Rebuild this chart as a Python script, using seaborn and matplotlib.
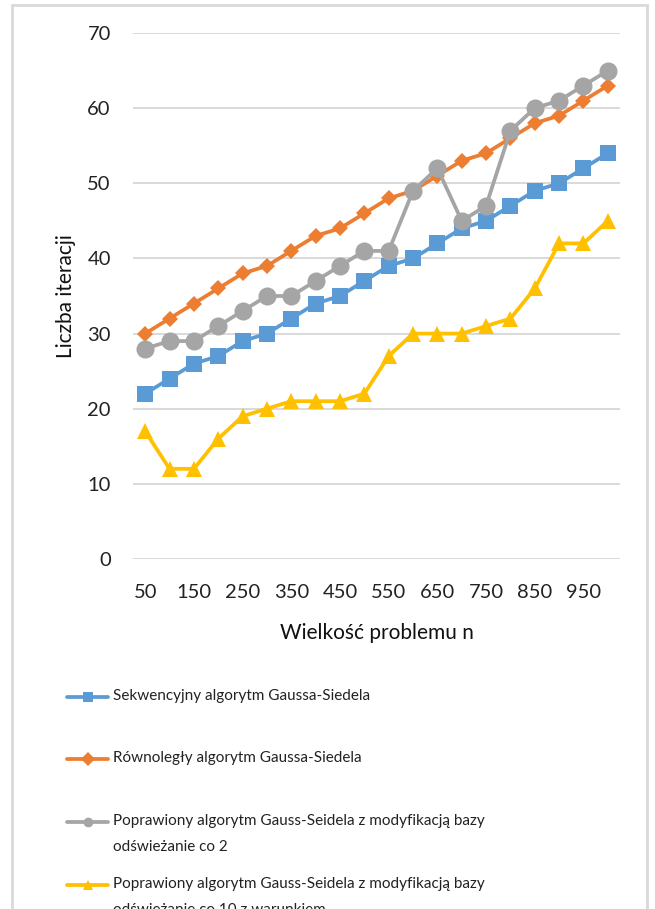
import numpy as np
import pandas as pd
import matplotlib
matplotlib.use("Agg")
import matplotlib.pyplot as plt
import seaborn as sns
from matplotlib.lines import Line2D
from matplotlib.patches import Rectangle

sizes = [50, 100, 150, 200, 250, 300, 350, 400, 450, 500,
         550, 600, 650, 700, 750, 800, 850, 900, 950, 1000]
sekwencyjny = [22, 24, 26, 27, 29, 30, 32, 34, 35, 37, 39, 40, 42, 44, 45, 47, 49, 50, 52, 54]
rownolegly = [30, 32, 34, 36, 38, 39, 41, 43, 44, 46, 48, 49, 51, 53, 54, 56, 58, 59, 61, 63]
poprawiony_2 = [28, 29, 29, 31, 33, 35, 35, 37, 39, 41, 41, 49, 52, 45, 47, 57, 60, 61, 63, 65]
poprawiony_10 = [17, 12, 12, 16, 19, 20, 21, 21, 21, 22, 27, 30, 30, 30, 31, 32, 36, 42, 42, 45]
xtick_labels = [50, 150, 250, 350, 450, 550, 650, 750, 850, 950]
yticks = [0, 10, 20, 30, 40, 50, 60, 70]

series_names = [
    "Sekwencyjny algorytm Gaussa-Siedela",
    "Równoległy algorytm Gaussa-Siedela",
    "Poprawiony algorytm Gauss-Seidela z modyfikacją bazy\nodświeżanie co 2",
    "Poprawiony algorytm Gauss-Seidela z modyfikacją bazy\nodświeżanie co 10 z warunkiem",
]
colors = ["#5B9BD5", "#ED7D31", "#A5A5A5", "#FFC000"]
markers = ["s", "D", "o", "^"]
msizes = [11.5, 8.5, 13, 12]

sns.set_theme(style="white")
plt.rcParams['font.family'] = ['Lato', 'DejaVu Sans']

df = pd.DataFrame({
    "n": sizes * 4,
    "iter": sekwencyjny + rownolegly + poprawiony_2 + poprawiony_10,
    "seria": sum([[s] * len(sizes) for s in series_names], []),
})

fig = plt.figure(figsize=(6.55, 9.09), dpi=100)
ax = fig.add_axes([133 / 655, 1 - 559 / 909, (620 - 133) / 655, (559 - 33) / 909])

sns.lineplot(data=df, x="n", y="iter", hue="seria", style="seria",
             palette=dict(zip(series_names, colors)),
             markers=dict(zip(series_names, markers)),
             dashes=False, linewidth=2.7, ax=ax, legend=False)
for line, ms in zip(ax.lines, msizes):
    line.set_markersize(ms)
    line.set_markeredgewidth(0)

ax.set_xlim(25, 1025)
ax.set_ylim(0, 70)
ax.set_xticks(xtick_labels)
ax.set_xticklabels([str(v) for v in xtick_labels], fontsize=14.5, color="#222222")
ax.set_yticks(yticks)
ax.set_yticklabels([str(v) for v in yticks], fontsize=14.5, color="#222222")
ax.tick_params(axis="both", length=0)
ax.tick_params(axis="x", pad=18)
ax.tick_params(axis="y", pad=16)
ax.yaxis.grid(True, color="#D9D9D9", linewidth=1.4)
ax.set_axisbelow(True)
for sp in ax.spines.values():
    sp.set_visible(False)
ax.set_xlabel("Wielkość problemu n", fontsize=15, color="#111111", labelpad=16)
ax.set_ylabel("Liczba iteracji", fontsize=15, color="#111111", labelpad=8)

# outer chart frame
fig.patches.append(Rectangle((12 / 655, -0.05), (647 - 12) / 655, 1 - 5 / 909 + 0.05,
                             transform=fig.transFigure, fill=False,
                             edgecolor="#D9D9D9", linewidth=2))

# legend (drawn below plot area)
leg_y = [697, 759, 822, 885]
for name, col, mk, y in zip(series_names, colors, markers, leg_y):
    yf = 1 - y / 909
    fig.add_artist(Line2D([67 / 655, 108 / 655], [yf, yf], transform=fig.transFigure,
                          color=col, linewidth=2.7))
    fig.add_artist(Line2D([87.5 / 655], [yf], transform=fig.transFigure,
                          color=col, marker=mk, markersize=7, markeredgewidth=0))
    fig.text(113 / 655, yf + 8 / 909, name, fontsize=11, color="#222222",
             va="top", ha="left", linespacing=2.05)

fig.savefig("out.png", dpi=100)
